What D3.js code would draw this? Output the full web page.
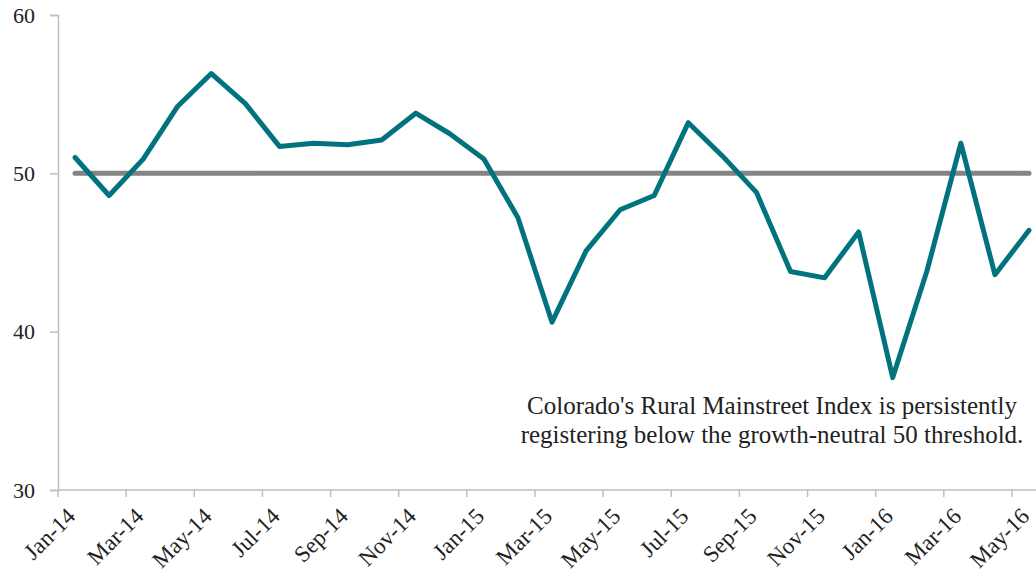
<!DOCTYPE html>
<html>
<head>
<meta charset="utf-8">
<script src="https://cdn.jsdelivr.net/npm/d3@7"></script>
<style>
  body { margin: 0; background: #fff; }
  svg { display: block; font-family: "Liberation Serif", "DejaVu Serif", serif; }
</style>
</head>
<body>
<div id="app"></div>
<script>
// DATA
const months = [
  'Jan-14', 'Feb-14', 'Mar-14', 'Apr-14', 'May-14', 'Jun-14', 'Jul-14', 'Aug-14',
  'Sep-14', 'Oct-14', 'Nov-14', 'Dec-14', 'Jan-15', 'Feb-15', 'Mar-15', 'Apr-15',
  'May-15', 'Jun-15', 'Jul-15', 'Aug-15', 'Sep-15', 'Oct-15', 'Nov-15', 'Dec-15',
  'Jan-16', 'Feb-16', 'Mar-16', 'Apr-16', 'May-16'
];
const indexValues = [
  51.0, 48.6, 50.9, 54.2, 56.3, 54.4, 51.7, 51.9,
  51.8, 52.1, 53.8, 52.5, 50.9, 47.2, 40.6, 45.1,
  47.7, 48.6, 53.2, 51.1, 48.8, 43.8, 43.4, 46.3,
  37.1, 43.8, 51.9, 43.6, 46.4
];
const threshold = 50;
const yTicks = [30, 40, 50, 60];
const noteLines = [
  "Colorado's Rural Mainstreet Index is persistently",
  'registering below the growth-neutral 50 threshold.'
];

// LAYOUT
const width = 1036;
const height = 577;
const margin = { left: 58, top: 15, bottom: 87 };
const step = 34.07;
const TEAL = '#00737e';
const GREY = '#848484';
const AXIS = '#bfbfbf';
const FONT = '"Liberation Serif", "DejaVu Serif", serif';

const x = d3.scaleBand()
  .domain(months)
  .range([margin.left, margin.left + step * months.length])
  .padding(0);

const y = d3.scaleLinear()
  .domain([30, 60])
  .range([height - margin.bottom, margin.top]);

const cx = d => x(d) + x.bandwidth() / 2;

// APP
const $svg = d3.select('#app')
  .append('svg')
  .attr('width', width)
  .attr('height', height);

// y axis
const $yAxis = $svg.append('g')
  .attr('transform', `translate(${margin.left},0)`)
  .call(d3.axisLeft(y).tickValues(yTicks).tickSize(8).tickPadding(15));

$yAxis.attr('font-family', FONT);
$yAxis.select('.domain').attr('stroke', AXIS).attr('stroke-width', 1.5);
$yAxis.selectAll('.tick line').attr('stroke', AXIS).attr('stroke-width', 1.5);
$yAxis.selectAll('.tick text')
  .attr('font-size', 22)
  .attr('fill', '#222');

// x axis: ticks on category boundaries, every other month
const $xAxis = $svg.append('g')
  .attr('transform', `translate(0,${y(30)})`);

$xAxis.append('line')
  .attr('x1', margin.left)
  .attr('x2', x.range()[1])
  .attr('stroke', AXIS)
  .attr('stroke-width', 1.5);

const labelled = months.filter((d, i) => i % 2 === 0);

$xAxis.selectAll('.xtick')
  .data(labelled)
  .enter()
    .append('line')
    .attr('x1', d => x(d))
    .attr('x2', d => x(d))
    .attr('y1', 0)
    .attr('y2', 7)
    .attr('stroke', AXIS)
    .attr('stroke-width', 1.5);

$xAxis.selectAll('.xlabel')
  .data(labelled)
  .enter()
    .append('text')
    .attr('transform', d => `translate(${cx(d) - 4},${22}) rotate(-45)`)
    .attr('text-anchor', 'end')
    .attr('dy', '0.35em')
    .attr('font-size', 23)
    .attr('fill', '#222')
    .text(d => d);

// threshold line
$svg.append('path')
  .datum(months)
  .attr('fill', 'none')
  .attr('stroke', GREY)
  .attr('stroke-width', 5)
  .attr('stroke-linecap', 'round')
  .attr('d', d3.line().x(d => cx(d)).y(() => y(threshold)));

// index line
$svg.append('path')
  .datum(indexValues)
  .attr('fill', 'none')
  .attr('stroke', TEAL)
  .attr('stroke-width', 5)
  .attr('stroke-linejoin', 'round')
  .attr('stroke-linecap', 'round')
  .attr('d', d3.line().x((d, i) => cx(months[i])).y(d => y(d)));

// note
$svg.append('text')
  .attr('x', 772)
  .attr('y', 414)
  .attr('text-anchor', 'middle')
  .attr('font-size', 25)
  .attr('fill', '#222')
  .selectAll('tspan')
  .data(noteLines)
  .enter()
    .append('tspan')
    .attr('x', 772)
    .attr('dy', (d, i) => i === 0 ? 0 : 29)
    .text(d => d);
</script>
</body>
</html>
